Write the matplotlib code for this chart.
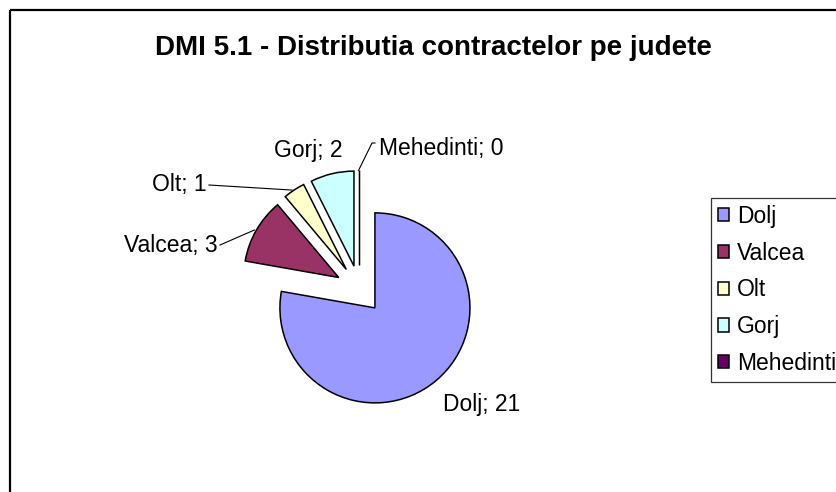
import matplotlib
matplotlib.use("Agg")
import matplotlib.pyplot as plt
from matplotlib.patches import Rectangle
import numpy as np

plt.rcParams['font.family'] = ['Liberation Sans', 'DejaVu Sans']

# ---- data ----
categories = ["Dolj", "Valcea", "Olt", "Gorj", "Mehedinti"]
values = [21, 3, 1, 2, 0]
colors = ["#9999FF", "#993366", "#FFFFCC", "#CCFFFF", "#660066"]
title = "DMI 5.1 - Distributia contractelor pe judete"

W, H = 837, 492
fig = plt.figure(figsize=(W / 100, H / 100), dpi=100)
ax = fig.add_axes([0, 0, 1, 1])

# outer chart frame (right/bottom edges lie outside the picture)
ax.add_patch(Rectangle((10, 10), W + 20, H + 20, fill=False, ec='black', lw=1.6, zorder=0))

center = (359.5, 289.5)
radius = 95
expl = 24
wedges, _ = ax.pie(values, colors=colors, startangle=-90, counterclock=True,
                   radius=radius, center=center, explode=[expl] * len(values),
                   frame=True, wedgeprops=dict(edgecolor='black', linewidth=1.1))
ax.set_xlim(0, W)
ax.set_ylim(H, 0)  # pixel-like coordinates, y down
ax.set_aspect('equal')
ax.axis('off')

fs = 16.5

def arc_mid(w):
    th = np.deg2rad((w.theta1 + w.theta2) / 2)
    cx, cy = w.center
    return cx + w.r * np.cos(th), cy + w.r * np.sin(th)

labels = [f"{c}; {v}" for c, v in zip(categories, values)]
# text positions (x, y, ha) and whether a leader line is drawn
label_pos = {
    "Dolj": (443, 405, 'left', False),
    "Valcea": (218, 245, 'right', True),
    "Olt": (207, 185, 'right', True),
    "Gorj": (308, 150, 'center', False),
    "Mehedinti": (379, 149, 'left', True),
}
for w, cat, lab in zip(wedges, categories, labels):
    x, y, ha, lead = label_pos[cat]
    ax.text(x, y, lab, ha=ha, va='center', fontsize=fs, color='black')
    if lead:
        ax_, ay_ = arc_mid(w)
        if cat == "Mehedinti":
            ax.plot([ax_ - 1, x - 7, x - 4], [ay_, y - 6, y - 6], color='black', lw=0.8)
        else:
            ax.plot([x + 2, ax_ - 2], [y, ay_], color='black', lw=0.8)

fig.text(433 / W, 1 - 48 / H, title, ha='center', va='center',
         fontsize=20, fontweight='bold')

leg = fig.legend(wedges, categories, loc='upper left',
                 bbox_to_anchor=(711 / W, 1 - 198 / H), fontsize=fs,
                 frameon=True, fancybox=False, shadow=False, edgecolor='black',
                 handlelength=0.5, handleheight=0.5, handletextpad=0.35,
                 labelspacing=0.6, borderpad=0.3, borderaxespad=0)
leg.get_frame().set_linewidth(0.9)

fig.savefig("out.png", dpi=100)
